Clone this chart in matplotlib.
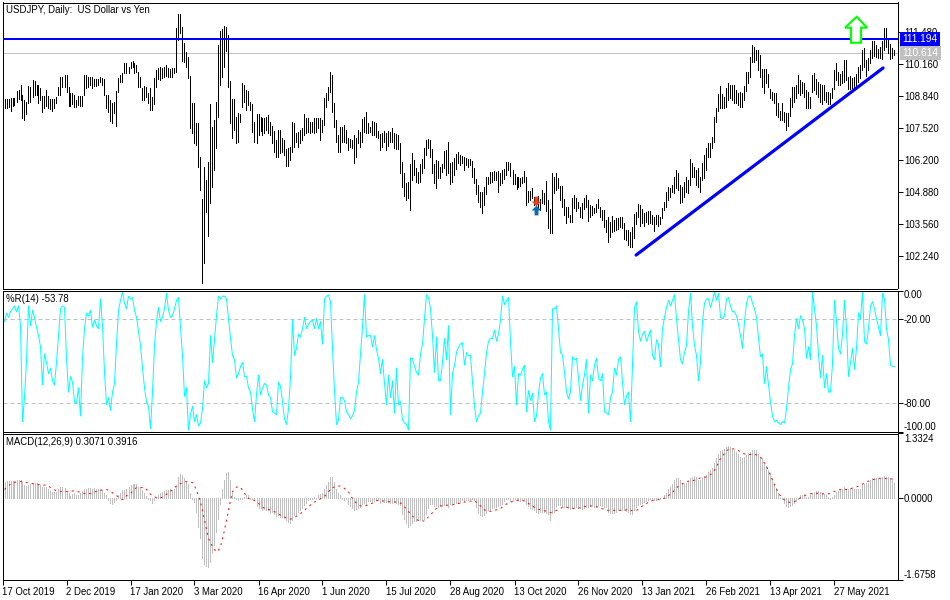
"""USDJPY daily chart with Williams %R and MACD panels."""

import matplotlib

matplotlib.use("Agg")
import matplotlib.pyplot as plt
from matplotlib.patches import Polygon

FIG_W, FIG_H = 950, 600
PX = 0.72  # one pixel in points at dpi 100

date_labels = [
    "17 Oct 2019", "2 Dec 2019", "17 Jan 2020", "3 Mar 2020", "16 Apr 2020",
    "1 Jun 2020", "15 Jul 2020", "28 Aug 2020", "13 Oct 2020", "26 Nov 2020",
    "13 Jan 2021", "26 Feb 2021", "13 Apr 2021", "27 May 2021",
]
date_bars = [-1, 31, 63, 95, 127, 159, 191, 223, 255, 287, 319, 351, 383, 415]

high = [
    108.70, 108.70, 108.72, 108.74, 108.74, 108.77, 109.06, 109.09, 109.29, 108.88,
    108.68, 108.58, 109.25, 109.20, 109.50, 109.46, 109.28, 109.29, 109.16, 108.85,
    108.85, 109.09, 108.84, 108.72, 108.72, 108.70, 108.81, 109.23, 109.61, 109.64,
    109.71, 109.71, 109.23, 108.98, 108.98, 108.88, 108.68, 108.84, 108.85, 108.84,
    109.69, 109.69, 109.61, 109.64, 109.61, 109.56, 109.53, 109.53, 109.64, 109.57,
    109.53, 108.88, 108.88, 108.68, 108.54, 108.61, 109.06, 109.57, 109.71, 109.80,
    110.19, 110.22, 110.05, 110.26, 110.30, 110.19, 110.12, 109.84, 109.64, 109.16,
    109.27, 109.23, 108.95, 109.16, 108.81, 109.57, 109.91, 109.98, 110.05, 109.98,
    110.05, 110.12, 109.98, 109.94, 109.98, 109.98, 111.63, 112.22, 112.22, 111.70,
    111.01, 110.67, 110.46, 109.67, 108.57, 108.54, 107.71, 107.74, 106.34, 104.59,
    105.93, 105.38, 106.13, 108.51, 107.58, 107.85, 108.61, 110.94, 111.54, 111.59,
    111.73, 111.70, 111.36, 109.47, 108.70, 108.70, 107.99, 108.13, 108.10, 109.36,
    109.29, 109.09, 109.06, 108.61, 108.51, 107.78, 108.10, 108.10, 107.96, 107.92,
    107.92, 107.99, 108.06, 107.78, 107.60, 107.41, 107.03, 107.44, 107.44, 107.09,
    107.03, 106.64, 106.68, 106.75, 107.78, 107.71, 107.30, 107.37, 107.44, 107.51,
    108.10, 107.92, 107.92, 107.78, 107.78, 107.92, 107.92, 107.92, 107.92, 107.85,
    108.74, 108.98, 109.20, 109.84, 109.71, 108.54, 107.85, 107.23, 107.58, 107.58,
    107.64, 107.44, 107.09, 107.05, 107.03, 107.23, 107.09, 107.44, 107.37, 107.88,
    107.99, 108.19, 107.74, 107.58, 107.81, 107.78, 107.71, 107.41, 107.27, 107.33,
    107.41, 107.33, 107.41, 107.37, 107.51, 107.33, 107.26, 107.23, 106.89, 106.10,
    105.65, 105.27, 105.31, 106.03, 106.48, 106.20, 105.86, 105.72, 106.03, 106.23,
    106.68, 107.03, 107.05, 107.03, 106.65, 106.03, 106.20, 106.17, 105.90, 106.03,
    106.57, 106.61, 106.93, 106.09, 106.13, 106.27, 106.45, 106.52, 106.41, 106.37,
    106.31, 106.30, 106.23, 106.23, 106.16, 105.86, 105.42, 105.17, 104.89, 104.89,
    105.10, 105.51, 105.51, 105.69, 105.72, 105.76, 105.72, 105.76, 105.65, 105.79,
    105.82, 106.10, 106.10, 106.06, 105.79, 105.62, 105.51, 105.51, 105.47, 105.51,
    105.75, 105.51, 104.92, 104.92, 105.03, 104.69, 104.69, 104.73, 104.59, 104.96,
    104.83, 105.33, 104.55, 104.17, 105.65, 105.51, 105.68, 105.44, 105.13, 105.13,
    104.59, 104.25, 104.25, 103.93, 104.62, 104.76, 104.62, 104.48, 104.28, 104.41,
    104.62, 104.76, 104.55, 104.34, 104.30, 104.21, 104.39, 104.59, 104.28, 104.14,
    104.14, 103.73, 103.86, 103.66, 103.89, 103.73, 103.79, 103.79, 103.86, 103.86,
    103.62, 103.31, 103.31, 103.22, 103.42, 103.97, 104.07, 104.39, 104.34, 104.17,
    104.00, 104.07, 104.10, 104.10, 103.93, 103.86, 103.93, 103.93, 103.86, 104.21,
    104.48, 104.89, 105.07, 105.03, 105.17, 105.51, 105.79, 105.65, 105.17, 105.10,
    105.31, 105.51, 105.38, 106.23, 106.06, 105.93, 105.79, 105.86, 105.51, 106.09,
    106.41, 106.68, 106.89, 106.92, 107.16, 107.99, 108.33, 108.92, 109.25, 108.92,
    108.81, 109.16, 109.36, 109.29, 109.29, 109.29, 109.09, 108.95, 109.02, 108.95,
    109.25, 109.84, 109.84, 110.44, 110.94, 110.88, 110.74, 110.74, 110.53, 109.94,
    109.94, 109.95, 109.75, 109.12, 109.02, 108.95, 108.95, 108.54, 108.24, 108.54,
    108.19, 108.15, 108.13, 108.74, 109.20, 109.20, 109.29, 109.71, 109.50, 109.43,
    109.39, 109.09, 109.02, 108.81, 109.71, 109.78, 109.53, 109.43, 109.32, 109.29,
    109.29, 109.02, 109.02, 108.95, 109.16, 109.91, 110.22, 109.84, 109.75, 109.89,
    110.33, 110.33, 109.64, 109.67, 109.57, 109.64, 109.73, 110.05, 110.12, 110.74,
    110.81, 110.33, 110.39, 110.74, 111.12, 111.12, 110.94, 110.77, 110.88, 111.12,
    111.63, 111.63, 111.15, 110.99, 110.81, 110.74,
]
low = [
    108.33, 108.33, 108.37, 108.24, 108.43, 108.47, 108.61, 108.72, 108.68, 107.92,
    107.85, 108.10, 108.54, 108.61, 108.81, 108.88, 108.88, 108.54, 108.68, 108.19,
    108.33, 108.43, 108.33, 108.29, 108.24, 108.33, 108.54, 108.88, 108.88, 109.23,
    109.20, 109.02, 108.43, 108.43, 108.51, 108.40, 108.40, 108.46, 108.43, 108.43,
    108.88, 109.16, 109.20, 109.29, 109.16, 109.25, 109.25, 109.29, 109.43, 109.29,
    108.88, 108.33, 108.19, 107.82, 107.74, 108.13, 107.60, 109.02, 109.43, 109.43,
    109.78, 109.80, 109.80, 109.98, 110.05, 109.78, 109.84, 109.20, 109.20, 108.68,
    108.68, 108.81, 108.54, 108.26, 108.26, 108.51, 109.23, 109.53, 109.50, 109.57,
    109.64, 109.67, 109.61, 109.61, 109.64, 109.80, 109.84, 111.15, 111.45, 110.30,
    110.26, 110.02, 109.57, 107.51, 107.30, 106.89, 106.82, 105.93, 104.96, 101.14,
    101.96, 104.07, 103.07, 104.41, 105.10, 105.79, 106.68, 107.96, 109.29, 109.64,
    110.05, 110.71, 109.20, 107.74, 107.09, 107.44, 106.89, 106.96, 107.78, 108.40,
    108.61, 108.26, 108.47, 108.26, 107.37, 106.96, 106.89, 107.23, 107.41, 107.23,
    107.30, 107.44, 107.30, 107.23, 106.89, 106.54, 106.34, 106.34, 106.48, 106.54,
    106.41, 105.97, 105.97, 106.20, 106.54, 106.75, 106.96, 106.75, 106.89, 107.03,
    107.23, 107.30, 107.37, 107.30, 107.37, 107.30, 107.37, 107.51, 107.03, 107.37,
    107.64, 108.40, 108.68, 109.02, 108.19, 107.58, 106.96, 106.54, 106.54, 106.96,
    106.96, 106.89, 106.61, 106.72, 106.68, 106.06, 106.34, 106.92, 106.75, 106.96,
    107.37, 107.30, 107.30, 107.37, 107.23, 107.23, 107.16, 107.09, 106.61, 106.75,
    106.96, 106.61, 106.78, 106.96, 106.96, 106.68, 106.65, 106.65, 105.65, 105.10,
    104.73, 104.55, 104.65, 104.14, 105.38, 105.58, 105.31, 105.27, 105.31, 105.65,
    105.86, 106.41, 106.68, 106.34, 105.65, 105.27, 105.06, 105.44, 105.44, 105.72,
    105.86, 105.58, 105.65, 105.20, 105.31, 105.58, 105.83, 106.06, 105.99, 106.06,
    105.79, 105.99, 105.93, 105.99, 105.51, 105.24, 104.78, 104.48, 104.25, 104.00,
    104.34, 104.80, 105.20, 105.24, 105.31, 105.38, 105.38, 104.89, 105.17, 105.24,
    105.42, 105.58, 105.79, 105.55, 105.21, 105.21, 105.00, 105.07, 105.13, 105.24,
    105.31, 104.34, 104.48, 104.55, 104.62, 104.34, 104.39, 104.28, 104.14, 104.41,
    104.39, 104.11, 103.38, 103.18, 103.18, 104.83, 104.96, 105.03, 104.55, 104.28,
    103.93, 103.62, 103.86, 103.66, 103.66, 104.21, 104.11, 104.21, 103.86, 103.79,
    104.17, 104.28, 103.68, 103.86, 103.93, 104.00, 104.07, 104.21, 103.86, 103.73,
    103.45, 103.24, 102.83, 103.01, 103.22, 103.29, 103.31, 103.35, 103.45, 103.41,
    102.93, 102.90, 102.69, 102.60, 102.60, 102.97, 103.56, 103.84, 103.48, 103.59,
    103.48, 103.66, 103.56, 103.62, 103.56, 103.29, 103.56, 103.48, 103.56, 103.79,
    104.14, 104.28, 104.55, 104.69, 104.89, 104.83, 105.03, 104.96, 104.41, 104.48,
    104.69, 104.89, 104.83, 105.17, 105.51, 105.51, 105.17, 105.10, 104.89, 105.38,
    105.44, 105.79, 106.34, 106.34, 106.68, 106.96, 107.78, 108.24, 108.33, 108.33,
    108.33, 108.40, 108.68, 108.74, 108.68, 108.54, 108.54, 108.47, 108.40, 108.37,
    108.68, 109.06, 109.36, 109.64, 110.26, 110.26, 110.33, 109.91, 109.64, 109.20,
    108.98, 109.36, 109.20, 108.74, 108.68, 108.54, 108.06, 107.96, 107.85, 107.85,
    107.78, 107.44, 107.60, 108.01, 108.40, 108.61, 108.74, 108.95, 108.88, 108.95,
    108.81, 108.33, 108.33, 108.33, 109.02, 109.09, 108.92, 108.81, 108.61, 108.51,
    108.68, 108.61, 108.51, 108.51, 108.74, 109.12, 109.50, 109.29, 109.29, 109.36,
    109.43, 109.50, 109.12, 109.12, 109.16, 109.16, 109.23, 109.43, 109.57, 109.91,
    110.05, 109.67, 109.91, 110.19, 110.39, 110.49, 110.46, 110.39, 110.39, 110.35,
    110.74, 110.88, 110.60, 110.35, 110.39, 110.53,
]
wpr = [
    -22, -16, -19, -15, -13, -11, -15, -11, -25, -93,
    -76, -50, -11, -25, -14, -19, -26, -32, -40, -67,
    -45, -51, -59, -55, -64, -67, -51, -32, -13, -11,
    -12, -48, -72, -61, -65, -79, -80, -69, -89, -48,
    -27, -16, -18, -14, -26, -21, -25, -27, -6, -25,
    -58, -81, -76, -85, -72, -66, -38, -14, -7, -1,
    -9, -13, -4, -6, -5, -14, -19, -29, -39, -55,
    -69, -79, -82, -98, -72, -39, -22, -12, -22, -19,
    -13, -2, -14, -19, -18, -13, -7, -5, -26, -46,
    -75, -69, -99, -88, -82, -93, -88, -96, -94, -84,
    -64, -69, -66, -32, -51, -35, -18, -4, -6, -4,
    -4, -6, -20, -34, -46, -49, -62, -59, -54, -51,
    -61, -61, -69, -72, -84, -93, -74, -60, -74, -69,
    -66, -67, -74, -76, -86, -87, -88, -65, -68, -79,
    -91, -95, -84, -62, -21, -46, -41, -31, -33, -27,
    -19, -27, -24, -22, -21, -27, -20, -27, -22, -38,
    -6, -4, -3, -8, -41, -71, -95, -92, -76, -76,
    -78, -86, -88, -91, -89, -85, -72, -65, -45, -26,
    -3, -33, -32, -32, -40, -32, -42, -48, -59, -49,
    -66, -81, -60, -76, -64, -87, -55, -81, -79, -92,
    -94, -95, -99, -48, -48, -54, -58, -60, -45, -38,
    -20, -3, -5, -13, -32, -58, -33, -64, -64, -51,
    -34, -49, -25, -88, -59, -53, -44, -40, -38, -37,
    -53, -44, -46, -46, -65, -82, -93, -89, -87, -72,
    -59, -44, -36, -34, -34, -28, -36, -31, -21, -4,
    -10, -7, -5, -36, -61, -54, -81, -59, -60, -56,
    -53, -86, -71, -78, -73, -93, -89, -73, -62, -59,
    -74, -72, -93, -99, -13, -13, -11, -27, -44, -46,
    -58, -72, -77, -72, -47, -49, -48, -62, -78, -67,
    -60, -49, -87, -60, -64, -53, -48, -62, -64, -59,
    -86, -87, -88, -76, -72, -55, -60, -49, -47, -65,
    -81, -75, -72, -93, -53, -12, -8, -29, -36, -31,
    -29, -36, -32, -28, -46, -49, -35, -38, -54, -27,
    -19, -12, -7, -11, -7, -3, -20, -35, -49, -52,
    -44, -39, -15, -2, -25, -39, -46, -64, -51, -22,
    -9, -6, -6, -12, -7, -1, -7, -2, -19, -20,
    -18, -6, -5, -11, -15, -15, -18, -24, -32, -41,
    -22, -9, -4, -4, -9, -13, -19, -34, -47, -45,
    -66, -54, -67, -79, -89, -93, -92, -94, -95, -93,
    -94, -84, -69, -56, -52, -32, -20, -27, -18, -21,
    -27, -48, -40, -49, -1, -13, -25, -45, -62, -46,
    -69, -59, -72, -72, -52, -7, -22, -41, -45, -31,
    -7, -27, -61, -51, -41, -56, -41, -16, -20, -1,
    -36, -38, -27, -11, -8, -13, -20, -26, -32, -2,
    -6, -27, -35, -53, -53.78, -53.78,
]
macd_main = [
    0.34, 0.35, 0.35, 0.35, 0.35, 0.36, 0.37, 0.37, 0.37, 0.34,
    0.27, 0.25, 0.27, 0.30, 0.32, 0.32, 0.32, 0.28, 0.27, 0.23,
    0.22, 0.23, 0.18, 0.15, 0.13, 0.13, 0.13, 0.18, 0.22, 0.23,
    0.20, 0.15, 0.10, 0.05, 0.08, 0.10, 0.06, 0.06, 0.11, 0.15,
    0.18, 0.19, 0.20, 0.20, 0.18, 0.20, 0.18, 0.18, 0.18, 0.16,
    0.10, 0.06, -0.04, -0.10, -0.11, -0.08, -0.04, 0.06, 0.11, 0.16,
    0.16, 0.18, 0.22, 0.27, 0.30, 0.30, 0.29, 0.23, 0.20, 0.16,
    0.10, 0.04, -0.01, -0.04, -0.10, -0.03, 0.03, 0.06, 0.10, 0.13,
    0.15, 0.16, 0.16, 0.18, 0.16, 0.18, 0.27, 0.44, 0.49, 0.47,
    0.41, 0.34, 0.30, 0.10, -0.01, -0.08, -0.28, -0.59, -0.83, -1.24,
    -1.35, -1.40, -1.41, -1.31, -1.14, -0.97, -0.69, -0.42, -0.11, 0.19,
    0.37, 0.52, 0.54, 0.37, 0.10, 0.03, -0.01, -0.04, -0.01, -0.01,
    0.03, 0.06, 0.06, -0.01, -0.01, -0.04, -0.16, -0.21, -0.21, -0.25,
    -0.23, -0.25, -0.25, -0.30, -0.28, -0.32, -0.37, -0.35, -0.38, -0.38,
    -0.40, -0.45, -0.49, -0.51, -0.45, -0.35, -0.32, -0.28, -0.25, -0.21,
    -0.14, -0.10, -0.04, -0.01, -0.01, 0.03, -0.01, 0.06, 0.08, 0.10,
    0.18, 0.27, 0.34, 0.44, 0.43, 0.34, 0.18, 0.10, 0.06, -0.01,
    -0.04, -0.01, -0.11, -0.16, -0.21, -0.25, -0.23, -0.21, -0.18, -0.12,
    -0.10, -0.11, -0.05, -0.05, -0.05, -0.05, -0.04, -0.04, -0.10, -0.05,
    -0.08, -0.08, -0.08, -0.09, -0.09, -0.08, -0.10, -0.11, -0.14, -0.32,
    -0.42, -0.52, -0.59, -0.56, -0.51, -0.47, -0.47, -0.45, -0.45, -0.42,
    -0.42, -0.32, -0.21, -0.12, -0.11, -0.16, -0.16, -0.18, -0.16, -0.16,
    -0.14, -0.12, -0.18, -0.12, -0.10, -0.12, -0.10, -0.10, -0.10, -0.04,
    -0.05, -0.03, -0.03, -0.01, -0.01, -0.04, -0.19, -0.30, -0.35, -0.37,
    -0.35, -0.30, -0.25, -0.25, -0.21, -0.18, -0.18, -0.16, -0.14, -0.12,
    -0.05, -0.01, -0.01, -0.05, -0.03, -0.01, -0.01, -0.03, -0.05, -0.04,
    -0.04, -0.11, -0.16, -0.21, -0.23, -0.25, -0.28, -0.30, -0.28, -0.28,
    -0.28, -0.30, -0.32, -0.44, -0.30, -0.28, -0.19, -0.14, -0.14, -0.19,
    -0.18, -0.18, -0.21, -0.23, -0.21, -0.21, -0.19, -0.21, -0.21, -0.23,
    -0.21, -0.19, -0.19, -0.16, -0.16, -0.19, -0.18, -0.16, -0.14, -0.16,
    -0.19, -0.19, -0.28, -0.30, -0.30, -0.30, -0.28, -0.25, -0.25, -0.25,
    -0.25, -0.26, -0.28, -0.32, -0.32, -0.25, -0.19, -0.14, -0.11, -0.10,
    -0.08, -0.05, -0.04, -0.01, -0.01, -0.04, -0.03, -0.01, -0.01, 0.01,
    0.06, 0.10, 0.18, 0.23, 0.30, 0.38, 0.41, 0.41, 0.37, 0.30,
    0.32, 0.32, 0.34, 0.41, 0.44, 0.45, 0.44, 0.38, 0.37, 0.41,
    0.45, 0.47, 0.54, 0.59, 0.63, 0.73, 0.82, 0.92, 0.98, 1.00,
    1.02, 1.06, 1.07, 1.06, 1.02, 0.99, 0.95, 0.91, 0.85, 0.83,
    0.85, 0.89, 0.93, 0.95, 0.99, 1.00, 0.99, 0.92, 0.84, 0.82,
    0.71, 0.66, 0.58, 0.52, 0.41, 0.30, 0.20, 0.10, 0.03, -0.01,
    -0.10, -0.16, -0.19, -0.16, -0.14, -0.10, -0.05, -0.01, 0.06, 0.06,
    0.08, 0.03, 0.03, 0.06, 0.11, 0.13, 0.14, 0.14, 0.13, 0.11,
    0.08, 0.06, 0.03, -0.01, 0.03, 0.06, 0.13, 0.15, 0.16, 0.18,
    0.23, 0.18, 0.18, 0.20, 0.18, 0.18, 0.18, 0.18, 0.18, 0.27,
    0.30, 0.32, 0.32, 0.37, 0.41, 0.42, 0.42, 0.41, 0.41, 0.43,
    0.45, 0.44, 0.43, 0.41, 0.37, 0.3071,
]
macd_signal = [
    0.18, 0.22, 0.25, 0.29, 0.30, 0.32, 0.34, 0.34, 0.34, 0.34,
    0.33, 0.32, 0.32, 0.30, 0.30, 0.29, 0.29, 0.28, 0.28, 0.27,
    0.27, 0.27, 0.25, 0.22, 0.20, 0.17, 0.15, 0.15, 0.14, 0.14,
    0.14, 0.14, 0.14, 0.14, 0.15, 0.15, 0.14, 0.13, 0.12, 0.10,
    0.10, 0.08, 0.09, 0.10, 0.11, 0.13, 0.14, 0.16, 0.16, 0.17,
    0.18, 0.18, 0.16, 0.14, 0.11, 0.08, 0.05, 0.03, -0.01, -0.03,
    0.01, 0.05, 0.08, 0.10, 0.14, 0.18, 0.22, 0.22, 0.22, 0.22,
    0.22, 0.18, 0.13, 0.08, 0.05, 0.03, 0.01, 0.01, 0.01, 0.02,
    0.05, 0.08, 0.12, 0.14, 0.18, 0.22, 0.25, 0.29, 0.30, 0.32,
    0.34, 0.34, 0.34, 0.33, 0.32, 0.25, 0.16, 0.05, -0.08, -0.26,
    -0.45, -0.65, -0.83, -0.92, -1.00, -1.06, -1.11, -1.07, -1.00, -0.83,
    -0.66, -0.45, -0.25, -0.05, 0.13, 0.19, 0.23, 0.23, 0.23, 0.16,
    0.10, 0.05, -0.01, -0.01, -0.03, -0.05, -0.08, -0.11, -0.14, -0.18,
    -0.21, -0.23, -0.23, -0.25, -0.27, -0.28, -0.30, -0.33, -0.35, -0.37,
    -0.39, -0.41, -0.43, -0.43, -0.42, -0.40, -0.37, -0.34, -0.32, -0.28,
    -0.25, -0.21, -0.18, -0.14, -0.11, -0.08, -0.05, -0.04, -0.01, 0.01,
    0.04, 0.08, 0.13, 0.18, 0.22, 0.23, 0.25, 0.25, 0.25, 0.23,
    0.20, 0.16, 0.13, 0.06, -0.01, -0.05, -0.11, -0.14, -0.16, -0.16,
    -0.16, -0.15, -0.14, -0.12, -0.10, -0.08, -0.05, -0.05, -0.05, -0.06,
    -0.06, -0.07, -0.07, -0.08, -0.08, -0.08, -0.08, -0.09, -0.10, -0.14,
    -0.18, -0.23, -0.28, -0.33, -0.37, -0.41, -0.44, -0.46, -0.48, -0.47,
    -0.47, -0.43, -0.38, -0.34, -0.30, -0.25, -0.21, -0.19, -0.16, -0.16,
    -0.16, -0.15, -0.14, -0.14, -0.14, -0.12, -0.12, -0.11, -0.10, -0.09,
    -0.08, -0.08, -0.07, -0.06, -0.05, -0.05, -0.09, -0.12, -0.16, -0.21,
    -0.24, -0.27, -0.27, -0.27, -0.27, -0.25, -0.24, -0.23, -0.21, -0.18,
    -0.15, -0.12, -0.10, -0.08, -0.07, -0.05, -0.05, -0.05, -0.05, -0.05,
    -0.06, -0.08, -0.11, -0.14, -0.16, -0.19, -0.21, -0.23, -0.24, -0.25,
    -0.26, -0.27, -0.29, -0.30, -0.28, -0.27, -0.25, -0.23, -0.21, -0.19,
    -0.19, -0.19, -0.19, -0.20, -0.21, -0.21, -0.22, -0.21, -0.19, -0.18,
    -0.17, -0.17, -0.16, -0.16, -0.16, -0.16, -0.18, -0.19, -0.21, -0.22,
    -0.23, -0.25, -0.25, -0.25, -0.25, -0.25, -0.25, -0.25, -0.25, -0.25,
    -0.25, -0.24, -0.23, -0.26, -0.25, -0.25, -0.25, -0.23, -0.19, -0.16,
    -0.14, -0.11, -0.08, -0.06, -0.05, -0.04, -0.04, -0.03, -0.03, -0.01,
    0.00, 0.01, 0.05, 0.09, 0.12, 0.16, 0.21, 0.25, 0.27, 0.30,
    0.32, 0.34, 0.35, 0.36, 0.36, 0.37, 0.38, 0.40, 0.42, 0.43,
    0.43, 0.44, 0.47, 0.49, 0.52, 0.58, 0.65, 0.73, 0.82, 0.87,
    0.92, 0.98, 1.00, 1.01, 1.02, 1.01, 0.99, 0.98, 0.95, 0.93,
    0.91, 0.91, 0.90, 0.90, 0.90, 0.90, 0.89, 0.87, 0.85, 0.79,
    0.72, 0.66, 0.56, 0.47, 0.37, 0.27, 0.19, 0.10, 0.05, 0.00,
    -0.04, -0.05, -0.08, -0.09, -0.08, -0.07, -0.05, -0.02, 0.01, 0.03,
    0.05, 0.07, 0.08, 0.09, 0.10, 0.10, 0.10, 0.10, 0.10, 0.09,
    0.09, 0.08, 0.09, 0.10, 0.12, 0.14, 0.16, 0.17, 0.18, 0.18,
    0.18, 0.18, 0.18, 0.19, 0.21, 0.22, 0.23, 0.25, 0.27, 0.29,
    0.32, 0.34, 0.35, 0.37, 0.38, 0.39, 0.40, 0.41, 0.41, 0.41,
    0.41, 0.40, 0.40, 0.40, 0.39, 0.3916,
]

price_ticks = [110.16, 108.84, 107.52, 106.20, 104.88, 103.56, 102.24]
price_top_tick = 111.48
resistance = 111.194
last_price = 110.614
trend_x = [315.8, 439.3]
trend_y = [102.28, 110.00]
# outlined up arrow drawn on the chart
arrow_x = [426.1, 431.3, 428.3, 428.3, 423.3, 423.3, 420.3]
arrow_y = [112.11, 111.66, 111.66, 111.04, 111.04, 111.66, 111.66]
sell_mark = (266, 104.51)
buy_mark = (266, 104.14)

plt.rcParams["font.family"] = ["Liberation Sans", "DejaVu Sans"]
plt.rcParams["font.size"] = 6.9
plt.rcParams["path.simplify"] = False

fig = plt.figure(figsize=(FIG_W / 100, FIG_H / 100), dpi=100, facecolor="white")


def panel(top, bottom):
    ax = fig.add_axes(
        [2.5 / FIG_W, 1 - bottom / FIG_H, 895 / FIG_W, (bottom - top) / FIG_H]
    )
    ax.set_xlim(-1, 446.5)
    ax.yaxis.tick_right()
    ax.tick_params(axis="y", length=3.6, width=PX, pad=1)
    ax.tick_params(axis="x", bottom=False, labelbottom=False)
    for spine in ax.spines.values():
        spine.set_linewidth(PX)
    return ax


bars = list(range(len(high)))

# price panel
ax1 = panel(2.5, 288.5)
ax1.set_ylim(100.90, 112.70)
ax1.axhline(last_price, color="#c0c0c0", lw=PX, zorder=1)
ax1.vlines(bars, low, high, color="black", lw=PX * 0.8, antialiased=False, zorder=2)
ax1.axhline(resistance, color="#0000ff", lw=2 * PX, zorder=3)
ax1.plot(trend_x, trend_y, color="#0000ff", lw=2.3, solid_capstyle="round", zorder=3)
ax1.add_patch(
    Polygon(
        list(zip(arrow_x, arrow_y)),
        closed=True,
        facecolor="white",
        edgecolor="#00ff00",
        lw=1.5,
        zorder=4,
    )
)
up_arrow = [(-1, 0), (0, 1), (1, 0), (0.4, 0), (0.4, -1), (-0.4, -1), (-0.4, 0)]
down_arrow = [(x, -y) for x, y in up_arrow]
ax1.plot(*sell_mark, marker=down_arrow, ms=7, color="#e8431f", mew=0, zorder=4)
ax1.plot(*buy_mark, marker=up_arrow, ms=7, color="#0a6ab0", mew=0, zorder=4)
ax1.set_yticks([price_top_tick] + price_ticks)
ax1.set_yticklabels([f"{v:.3f}" for v in [price_top_tick] + price_ticks])
tag_tf = ax1.get_yaxis_transform()
ax1.text(
    1.0055, resistance, f"{resistance:.3f}", transform=tag_tf, color="white", fontsize=7.4,
    va="center", ha="left", zorder=6, clip_on=False,
    bbox=dict(facecolor="#0000ff", edgecolor="none", pad=1.6),
)
ax1.text(
    1.0055, last_price, f"{last_price:.3f}", transform=tag_tf, color="white", fontsize=7.4,
    va="center", ha="left", zorder=6, clip_on=False,
    bbox=dict(facecolor="#c0c0c0", edgecolor="none", pad=1.6),
)
ax1.text(0.004, 0.974, "USDJPY, Daily:  US Dollar vs Yen", transform=ax1.transAxes, va="center")

# williams %R panel
ax2 = panel(290.5, 431.5)
ax2.set_ylim(-100, 0)
for level in (-20, -80):
    ax2.axhline(level, color="#c0c0c0", lw=PX, ls=(0, (4, 3)), zorder=1)
ax2.plot(bars, wpr, color="#00ffff", lw=PX, zorder=2)
ax2.set_yticks([0, -20, -80, -100])
ax2.set_yticklabels(["0.00", "-20.00", "-80.00", "-100.00"])
ax2.get_yticklabels()[0].set_verticalalignment("top")
ax2.get_yticklabels()[3].set_verticalalignment("bottom")
ax2.text(0.004, 0.94, f"%R(14) {wpr[-1]:.2f}", transform=ax2.transAxes, va="center")

# macd panel
ax3 = panel(433.5, 579.5)
ax3.set_ylim(-1.6758, 1.3324)
ax3.vlines(bars, 0, macd_main, color="#c0c0c0", lw=PX * 0.8, antialiased=False, zorder=1)
ax3.plot(bars, macd_signal, color="#ff0000", lw=PX, ls=(0, (2, 4)), zorder=2)
ax3.set_yticks([1.3324, 0, -1.6758])
ax3.set_yticklabels(["1.3324", "0.0000", "-1.6758"])
ax3.get_yticklabels()[0].set_verticalalignment("top")
ax3.get_yticklabels()[2].set_verticalalignment("bottom")
ax3.text(
    0.004, 0.94, f"MACD(12,26,9) {macd_main[-1]:.4f} {macd_signal[-1]:.4f}",
    transform=ax3.transAxes, va="center",
)
ax3.tick_params(axis="x", bottom=True, labelbottom=True, length=3.6, width=PX, pad=2)
ax3.set_xticks(date_bars)
ax3.set_xticklabels(date_labels, ha="left")

fig.savefig("out.png", dpi=100, facecolor="white")
